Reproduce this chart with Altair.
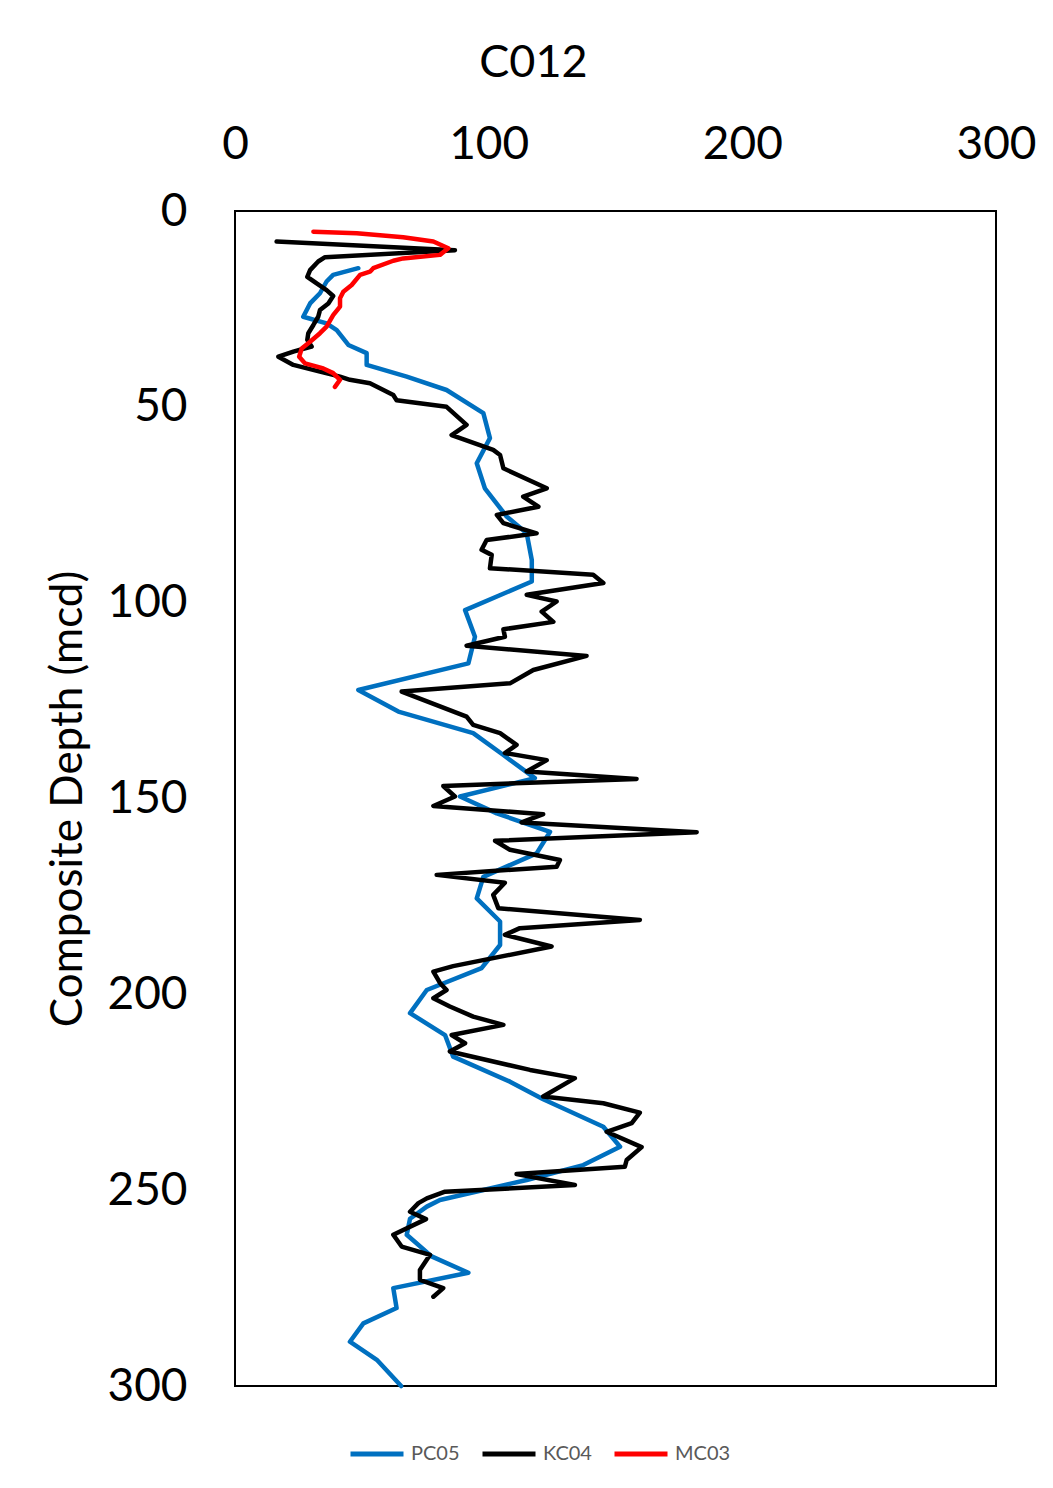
import altair as alt
import pandas as pd

# PC05 (blue)
pc05_x = [48.6, 38.7, 36.1, 33.5, 29.6, 26.9, 36.1, 40.1, 44.7, 51.9, 51.9, 67.7, 83.4, 97.9,
          100.5, 95.3, 98.5, 107.1, 115.0, 117.0, 117.0, 90.7, 94.6, 92.0, 48.6, 64.4, 93.9,
          105.8, 118.2, 88.7, 103.2, 124.2, 118.9, 97.9, 95.3, 104.5, 104.5, 97.2, 75.6, 69.0,
          82.8, 86.0, 108.4, 121.5, 145.2, 151.8, 137.3, 115.0, 80.8, 75.6, 69.0, 67.7, 77.5,
          92.0, 62.4, 63.7, 50.6, 45.3, 55.9, 65.5]
pc05_d = [14.6, 16.3, 18.0, 21.0, 23.6, 27.0, 28.7, 30.4, 34.2, 36.3, 39.3, 42.3, 45.7, 51.6,
          58.0, 64.4, 70.8, 78.0, 82.3, 89.1, 94.6, 101.9, 108.7, 115.5, 122.3, 127.8, 133.3,
          138.9, 144.8, 149.5, 153.8, 158.5, 164.0, 170.0, 175.5, 181.4, 187.4, 193.3, 198.9,
          204.8, 210.4, 215.9, 222.3, 226.8, 233.8, 238.9, 243.6, 247.4, 252.5, 254.2, 257.3,
          261.4, 266.9, 271.1, 275.0, 280.1, 284.0, 288.7, 293.3, 300.0]

# KC04 (black)
kc04_x = [16.4, 86.7, 35.5, 32.8, 29.6, 28.5, 32.2, 36.1, 38.7, 36.8, 33.5, 32.8, 30.9, 28.9,
          28.5, 30.2, 23.0, 17.1, 23.0, 33.5, 41.4, 45.3, 53.2, 58.5, 62.4, 63.7, 83.4, 91.3,
          85.4, 101.8, 104.5, 105.8, 122.9, 113.6, 119.6, 103.2, 105.8, 118.9, 99.2, 97.2,
          101.2, 100.5, 141.2, 145.2, 115.0, 126.8, 120.9, 125.5, 105.8, 106.4, 91.3, 138.6,
          117.6, 108.4, 65.7, 91.3, 93.9, 104.5, 111.0, 106.4, 122.9, 115.0, 158.3, 82.1, 86.7,
          78.2, 121.5, 113.0, 182.0, 102.5, 108.4, 128.1, 126.8, 79.5, 106.4, 101.8, 103.8,
          159.6, 112.3, 106.4, 124.8, 86.0, 78.2, 80.8, 83.4, 78.2, 84.7, 93.9, 105.8, 85.4,
          90.7, 84.7, 116.3, 134.0, 121.5, 145.2, 159.6, 156.4, 146.5, 160.3, 154.4, 153.7,
          111.0, 134.0, 82.8, 75.6, 72.3, 69.0, 75.3, 62.4, 65.7, 76.9, 72.9, 72.9, 82.1, 78.2]
kc04_d = [7.8, 10.0, 11.8, 12.9, 15.1, 16.8, 18.5, 20.2, 21.7, 23.6, 25.3, 27.0, 29.1, 31.2,
          32.9, 34.6, 35.9, 37.2, 39.3, 41.0, 42.3, 43.1, 44.0, 45.7, 47.0, 48.3, 50.0, 54.6,
          57.2, 61.0, 62.3, 65.7, 70.8, 72.9, 75.5, 77.6, 79.7, 82.3, 84.0, 86.5, 87.8, 91.2,
          92.9, 95.0, 98.0, 99.7, 102.3, 104.9, 106.8, 108.7, 111.0, 113.6, 117.2, 120.6,
          122.7, 129.1, 131.2, 133.3, 136.3, 138.4, 140.2, 143.1, 145.0, 146.8, 149.5, 151.9,
          154.0, 156.1, 158.6, 160.8, 163.1, 165.7, 167.4, 169.5, 171.5, 174.6, 178.0, 181.0,
          183.1, 184.8, 187.8, 192.8, 194.2, 197.1, 198.9, 201.0, 203.1, 205.7, 207.8, 210.4,
          212.5, 214.6, 219.3, 221.4, 226.1, 227.8, 230.2, 232.9, 235.1, 239.0, 242.3, 244.0,
          245.9, 248.7, 250.4, 252.1, 253.3, 255.5, 257.4, 261.4, 264.4, 266.5, 270.4, 272.9,
          275.0, 277.2]

# MC03 (red)
mc03_x = [30.9, 48.0, 66.3, 78.2, 84.1, 80.8, 66.3, 62.4, 54.5, 53.2, 49.3, 46.0, 42.7, 41.4,
          41.4, 38.7, 36.1, 33.5, 29.6, 26.3, 25.3, 27.6, 34.8, 38.7, 41.4, 39.4]
mc03_d = [5.3, 5.7, 6.7, 7.8, 9.5, 11.2, 12.1, 12.7, 14.6, 15.5, 16.3, 18.9, 20.6, 22.3, 24.4,
          26.6, 29.5, 31.2, 33.4, 35.1, 37.2, 38.9, 40.2, 41.4, 43.1, 44.9]

series_names = ["PC05", "KC04", "MC03"]
series_colors = ["#0070C0", "#000000", "#FF0000"]
x_ticks = [0, 100, 200, 300]
y_ticks = [0, 50, 100, 150, 200, 250, 300]


def frame(name, xs, ds):
    return pd.DataFrame({"value": xs, "depth": ds, "series": name, "idx": list(range(len(xs)))})


FONT = "Lato"

color_scale = alt.Scale(domain=series_names, range=series_colors)
x_enc = alt.X("value:Q", scale=alt.Scale(domain=[0, 300], nice=False),
              axis=alt.Axis(orient="top", values=x_ticks, title="C012", grid=False, ticks=False,
                            domain=False, labelFontSize=46, titleFontSize=45, labelPadding=43,
                            titlePadding=36, labelFont=FONT, titleFont=FONT, labelColor="black",
                            titleColor="black", titleFontWeight="normal", labelFlush=False,
                            labelOverlap=False, titleX=298, titleAlign="center"))
y_enc = alt.Y("depth:Q", scale=alt.Scale(domain=[0, 300], reverse=True, nice=False),
              axis=alt.Axis(values=y_ticks, title="Composite Depth (mcd)", grid=False, ticks=False,
                            domain=False, labelFontSize=46, titleFontSize=44, labelPadding=48,
                            titlePadding=16, labelFont=FONT, titleFont=FONT, labelColor="black",
                            titleColor="black", titleFontWeight="normal", labelFlush=False,
                            labelOverlap=False))
legend = alt.Legend(title=None, orient="none", direction="horizontal", legendX=113, legendY=1214,
                    symbolType="stroke", symbolSize=2809, symbolStrokeWidth=5,
                    labelFontSize=20, labelFont=FONT, labelColor="#595959", labelOffset=5,
                    columnPadding=12)


def line(name, xs, ds):
    return alt.Chart(frame(name, xs, ds)).mark_line(
        strokeWidth=4.5, strokeJoin="round", strokeCap="round"
    ).encode(
        x=x_enc, y=y_enc,
        color=alt.Color("series:N", scale=color_scale, legend=legend, sort=series_names),
        order=alt.Order("idx:Q"),
    )


chart = alt.layer(
    line("PC05", pc05_x, pc05_d),
    line("KC04", kc04_x, kc04_d),
    line("MC03", mc03_x, mc03_d),
).properties(
    width=761, height=1175,
    autosize=alt.AutoSizeParams(type="none"),
    padding={"left": 235, "top": 211, "right": 57, "bottom": 102},
    background="white",
).configure_view(stroke="black", strokeWidth=2)

chart.save("out.html", embed_options={"renderer": "svg", "actions": False})
